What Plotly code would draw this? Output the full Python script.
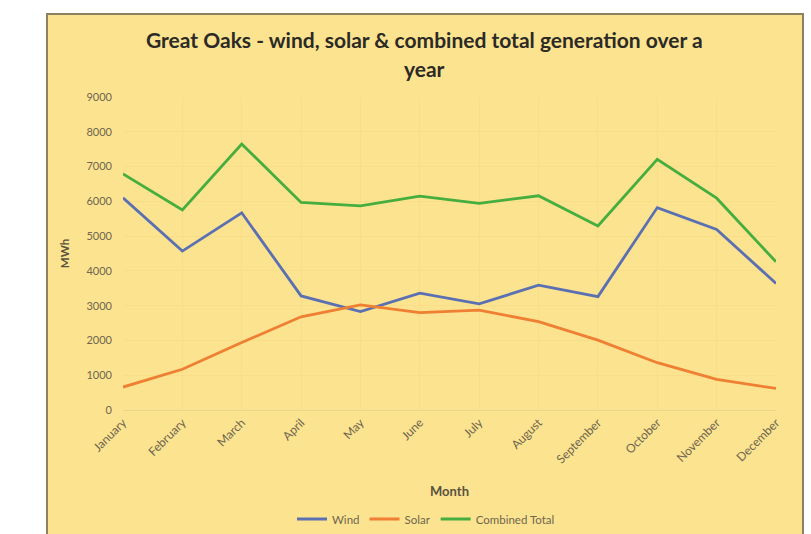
import plotly.graph_objects as go

months = ["January", "February", "March", "April", "May", "June", "July",
          "August", "September", "October", "November", "December"]
wind = [6100, 4570, 5670, 3280, 2830, 3360, 3050, 3590, 3260, 5820, 5190, 3640]
solar = [660, 1170, 1940, 2680, 3020, 2800, 2870, 2540, 2010, 1360, 880, 620]
combined = [6790, 5750, 7650, 5970, 5870, 6150, 5940, 6160, 5290, 7210, 6090, 4260]
y_ticks = [0, 1000, 2000, 3000, 4000, 5000, 6000, 7000, 8000, 9000]

BG = "#FCE38F"
W, H = 811, 534
L, R, T, B = 123, 35, 97, 124
pw, ph = W - L - R, H - T - B

def px(x):
    return (x - L) / pw

def py(y):
    return (H - B - y) / ph

fig = go.Figure()
fig.add_trace(go.Scatter(x=months, y=wind, mode="lines", name="Wind",
                         line=dict(color="#5B70B2", width=2.8)))
fig.add_trace(go.Scatter(x=months, y=solar, mode="lines", name="Solar",
                         line=dict(color="#EE7F33", width=2.8)))
fig.add_trace(go.Scatter(x=months, y=combined, mode="lines", name="Combined Total",
                         line=dict(color="#46AE3E", width=2.8)))

fig.add_shape(type="rect", xref="paper", yref="paper",
              x0=px(47), x1=px(803), y0=py(560), y1=py(14),
              fillcolor=BG, line=dict(color="#8C8262", width=2), layer="below")

fig.add_annotation(xref="paper", yref="paper", x=px(424), y=py(40),
                   text="<b>Great Oaks - wind, solar & combined total generation over a</b>",
                   showarrow=False, font=dict(family="Lato", size=21, color="#2B2A26"),
                   xanchor="center", yanchor="middle")
fig.add_annotation(xref="paper", yref="paper", x=px(424), y=py(69),
                   text="<b>year</b>",
                   showarrow=False, font=dict(family="Lato", size=21, color="#2B2A26"),
                   xanchor="center", yanchor="middle")

fig.update_layout(
    width=W, height=H,
    margin=dict(l=L, r=R, t=T, b=B, pad=0),
    paper_bgcolor="white",
    plot_bgcolor="rgba(0,0,0,0)",
    font=dict(family="Lato", color="#7A7152"),
    showlegend=True,
    legend=dict(orientation="h", xref="container", yref="container",
                x=426 / W, y=1 - 519 / H, xanchor="center", yanchor="middle",
                font=dict(size=11.5, color="#6E6650"), bgcolor="rgba(0,0,0,0)",
                tracegroupgap=0),
    xaxis=dict(type="category", range=[0, 11], tickangle=-45, automargin=False,
               tickfont=dict(size=12, color="#6E6650"), showgrid=True,
               gridcolor="rgba(240,205,110,0.2)", zeroline=False,
               showline=True, linecolor="#EAD48A", linewidth=1, ticks="",
               title=dict(text="<b>Month</b>", font=dict(size=13, color="#595240"), standoff=21)),
    yaxis=dict(range=[0, 9000], tickvals=y_ticks, tickfont=dict(size=11, color="#6E6650"),
               automargin=False,
               showgrid=True, gridcolor="rgba(240,205,110,0.2)", zeroline=False,
               showline=False, ticks="", ticklabelstandoff=10,
               title=dict(text="<b>MWh</b>", font=dict(size=11.5, color="#595240"), standoff=14)),
)

fig.write_html("out.html")
